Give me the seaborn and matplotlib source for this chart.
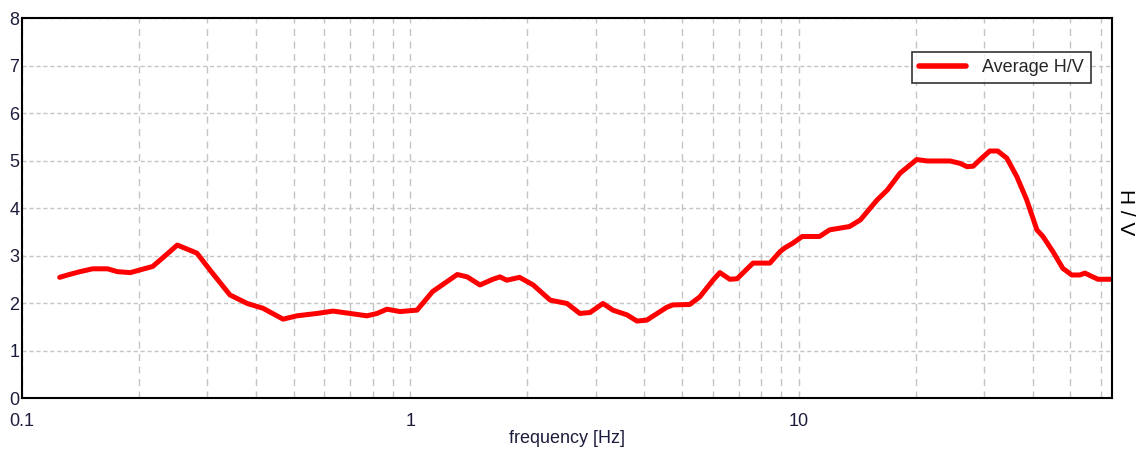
import matplotlib
matplotlib.use('Agg')
from matplotlib import pyplot as plt
from matplotlib.ticker import LogLocator, NullFormatter
import pandas as pd
import seaborn as sns

# averaged H/V curve
freq = [0.125, 0.131, 0.141, 0.152, 0.166, 0.176, 0.190, 0.198, 0.217, 0.231,
        0.251, 0.282, 0.305, 0.343, 0.380, 0.417, 0.470, 0.510, 0.575, 0.632,
        0.699, 0.773, 0.820, 0.870, 0.940, 1.04, 1.14, 1.32, 1.40, 1.51,
        1.63, 1.70, 1.77, 1.91, 2.07, 2.29, 2.53, 2.73, 2.90, 3.13,
        3.32, 3.61, 3.83, 4.06, 4.57, 4.74, 5.24, 5.56, 6.01, 6.26,
        6.64, 6.93, 7.62, 8.42, 8.94, 9.20, 9.65, 10.2, 11.3, 12.0,
        13.5, 14.4, 15.9, 16.9, 18.2, 20.1, 21.4, 24.5, 26.0, 27.1,
        28.1, 29.2, 31.0, 32.5, 34.3, 36.4, 38.6, 41.0, 42.5, 45.1,
        47.8, 50.4, 52.9, 54.5, 57.1, 58.9, 63.9]
hv = [2.54, 2.59, 2.66, 2.72, 2.72, 2.66, 2.64, 2.68, 2.77, 2.96,
      3.22, 3.05, 2.69, 2.17, 1.99, 1.89, 1.66, 1.73, 1.78, 1.83,
      1.78, 1.73, 1.78, 1.87, 1.82, 1.85, 2.24, 2.60, 2.55, 2.38,
      2.50, 2.55, 2.48, 2.54, 2.38, 2.06, 1.99, 1.78, 1.80, 1.99,
      1.85, 1.75, 1.62, 1.64, 1.91, 1.96, 1.97, 2.13, 2.48, 2.64,
      2.50, 2.51, 2.84, 2.84, 3.08, 3.16, 3.26, 3.40, 3.40, 3.54,
      3.61, 3.75, 4.17, 4.38, 4.73, 5.02, 4.99, 4.99, 4.94, 4.87,
      4.88, 5.01, 5.20, 5.20, 5.05, 4.66, 4.17, 3.54, 3.40, 3.08,
      2.73, 2.59, 2.59, 2.63, 2.55, 2.50, 2.50]
xticks = [0.1, 1, 10]
xticklabels = ['0.1', '1', '10']
yticks = [0, 1, 2, 3, 4, 5, 6, 7, 8]

sns.set_style('white')
plt.rcParams['font.family'] = ['Liberation Sans', 'DejaVu Sans']
fs = 13

df = pd.DataFrame({'frequency': freq, 'hv': hv})

fig = plt.figure(figsize=(11.41, 4.57), dpi=100)
ax = fig.add_axes([0.0193, 0.1291, 0.9553, 0.8315])
sns.lineplot(data=df, x='frequency', y='hv', color='#ff0000', linewidth=3.6,
             sort=False, errorbar=None, label='Average H/V', ax=ax)

ax.set_xscale('log')
ax.set_xlim(0.1, 64)
ax.set_ylim(0, 8)
ax.set_xticks(xticks)
ax.set_xticklabels(xticklabels)
ax.xaxis.set_minor_locator(LogLocator(base=10, subs=range(2, 10)))
ax.xaxis.set_minor_formatter(NullFormatter())
ax.set_yticks(yticks)

ax.grid(True, axis='y', which='major', color='#c4c4c4', linestyle=(0, (3, 2)), linewidth=1)
ax.grid(True, axis='x', which='both', color='#c4c4c4', linestyle=(0, (5, 4)), linewidth=1)
ax.set_axisbelow(True)

ax.tick_params(axis='both', which='both', length=0, labelsize=fs, colors='#1c1c3c')
ax.tick_params(axis='x', pad=11)
ax.tick_params(axis='y', pad=2)

for s in ax.spines.values():
    s.set_color('black')
    s.set_linewidth(1.5)

ax.set_xlabel('frequency [Hz]', fontsize=fs, color='#1c1c3c', labelpad=0)
ax.set_ylabel('')
ax.text(1.012, 0.49, 'H / V', transform=ax.transAxes, rotation=270,
        ha='center', va='center', fontsize=fs + 2, color='black')

leg = ax.legend(loc='upper right', bbox_to_anchor=(0.9807, 0.9105), fontsize=fs,
                frameon=True, fancybox=False, borderpad=0.4, borderaxespad=0,
                handlelength=2.6, handletextpad=0.9)
leg.get_frame().set_edgecolor('black')
leg.get_frame().set_linewidth(1.2)
for line in leg.get_lines():
    line.set_linewidth(4)

fig.savefig('out.png', dpi=100)
